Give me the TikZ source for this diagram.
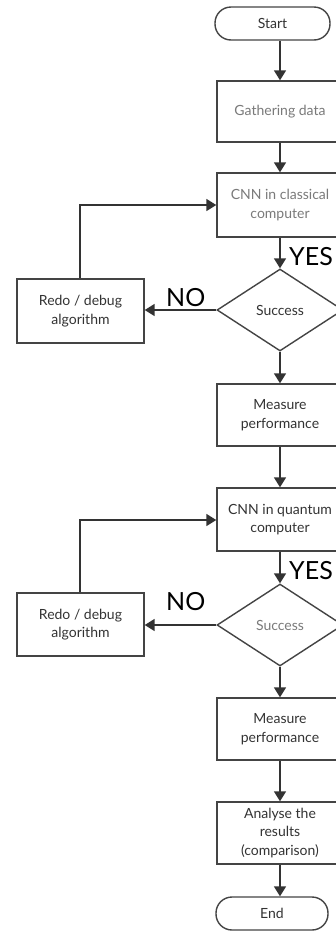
\documentclass[tikz,border=0pt]{standalone}
\usepackage{fontspec}
\setmainfont{Lato}
\usetikzlibrary{shapes.geometric,arrows.meta}
\definecolor{edgecol}{HTML}{444444}
\definecolor{linecol}{HTML}{333333}
\definecolor{darktxt}{HTML}{333333}
\definecolor{lighttxt}{HTML}{7A7A7A}
\tikzset{
  boxnode/.style={draw=edgecol, line width=1.4pt, fill=white, minimum width=126pt, inner sep=0pt, align=center, text=darktxt, font=\fontsize{14}{18.5}\selectfont},
  termnode/.style={boxnode, rounded corners=16pt, minimum height=33pt},
  decnode/.style={diamond, draw=edgecol, line width=1.4pt, fill=white, minimum width=126pt, minimum height=82pt, inner sep=0pt, text=darktxt, font=\fontsize{14}{18.5}\selectfont},
  flow/.style={draw=linecol, line width=1.6pt, -{Triangle[width=12pt,length=10pt]}},
  answer/.style={text=black, font=\fontsize{25}{25}\selectfont, inner sep=0pt}
}
\begin{document}
\begin{tikzpicture}[x=1pt,y=-1pt]
\useasboundingbox (0,0) rectangle (336,935);
\clip (0,0) rectangle (336,935);
\fill[white] (0,0) rectangle (336,935);
\node[termnode, minimum width=115pt] (start) at (272.5,23.5) {Start};
\node[boxnode, minimum height=61pt, text=lighttxt] (gather) at (280,111.5) {Gathering data};
\node[boxnode, minimum height=64pt, text=lighttxt] (cnn1) at (280,205) {CNN in classical\\computer};
\node[decnode] (dia1) at (280,310) {Success};
\node[boxnode, minimum width=127pt, minimum height=64pt] (redo1) at (80.5,311) {Redo / debug\\algorithm};
\node[boxnode, minimum height=62pt] (meas1) at (280,415) {Measure\\performance};
\node[boxnode, minimum height=63pt] (cnn2) at (280,519.5) {CNN in quantum\\computer};
\node[decnode, text=lighttxt] (dia2) at (280,625) {Success};
\node[boxnode, minimum width=127pt, minimum height=63pt] (redo2) at (80.5,624.5) {Redo / debug\\algorithm};
\node[boxnode, minimum height=62pt] (meas2) at (280,729) {Measure\\performance};
\node[boxnode, minimum height=62pt] (anal) at (280,833) {Analyse the\\results\\(comparison)};
\node[termnode, minimum width=112pt] (end) at (272,913.5) {End};
\node[answer, anchor=base west] (yes1) at (289,265) {YES};
\node[answer, anchor=base west] (yes2) at (289,579) {YES};
\node[answer, anchor=base west] (no1) at (166,306) {NO};
\node[answer, anchor=base west] (no2) at (166,610) {NO};
\coordinate (loop1) at (80,205);
\coordinate (loop2) at (80,520);
\draw[flow] (gather.north |- start.south) -- (gather.north);
\draw[flow] (gather) -- (cnn1);
\draw[flow] (cnn1) -- (dia1);
\draw[flow] (dia1.west) -- (dia1.west -| redo1.east);
\draw[flow] (redo1.north -| loop1) -- (loop1) -- (cnn1.west |- loop1);
\draw[flow] (dia1) -- (meas1);
\draw[flow] (meas1) -- (cnn2);
\draw[flow] (cnn2) -- (dia2);
\draw[flow] (dia2.west) -- (dia2.west -| redo2.east);
\draw[flow] (redo2.north -| loop2) -- (loop2) -- (cnn2.west |- loop2);
\draw[flow] (dia2) -- (meas2);
\draw[flow] (meas2) -- (anal);
\draw[flow] (anal.south) -- (anal.south |- end.north);
\end{tikzpicture}
\end{document}
